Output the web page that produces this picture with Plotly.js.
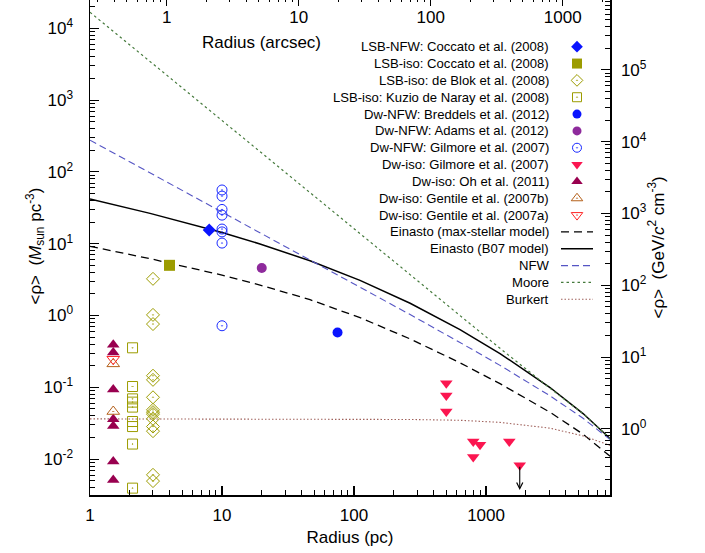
<!DOCTYPE html>
<html><head><meta charset="utf-8">
<script src="https://cdn.plot.ly/plotly-3.0.1.min.js"></script>
<style>html,body{margin:0;padding:0;background:#fff;overflow:hidden}#chart{position:absolute;left:0;top:-3px;width:705px;height:556px}</style>
</head><body><div id="chart"></div><script>
// ---------- observational data (radius in pc, mean density in Msun/pc^3) ----------
const lsbNfwCoccatoR = [8];
const lsbNfwCoccatoRho = [15.5];
const lsbIsoCoccatoR = [4];
const lsbIsoCoccatoRho = [5.0];
const lsbIsoDeBlokR = [3, 3, 3, 3, 3, 3, 3, 3, 3, 3, 3, 3, 3, 3];
const lsbIsoDeBlokRho = [3.24, 1.02, 0.76, 0.145, 0.127, 0.0726, 0.0486, 0.0451, 0.0423, 0.0364, 0.0284, 0.0245, 0.00604, 0.00494];
const lsbIsoKuzioR = [2.1, 2.1, 2.1, 2.1, 2.1, 2.1, 2.1, 2.1, 2.1];
const lsbIsoKuzioRho = [0.355, 0.1026, 0.069, 0.0622, 0.053, 0.0334, 0.0284, 0.0162, 0.00394];
const dwNfwBreddelsR = [75];
const dwNfwBreddelsRho = [0.58];
const dwNfwAdamsR = [20];
const dwNfwAdamsRho = [4.6];
const dwNfwGilmoreR = [10, 10, 10, 10, 10, 10, 10, 10];
const dwNfwGilmoreRho = [56, 46, 30, 25, 16, 14.6, 10.2, 0.72];
const dwIsoGilmoreR = [500, 500, 500, 800, 900, 800, 1500, 1800];
const dwIsoGilmoreRho = [0.114, 0.0769, 0.046, 0.0176, 0.0158, 0.0107, 0.0176, 0.0082];
const dwIsoGilmoreLimitTo = 0.0037;   // upper-limit arrow end for the last point
const dwIsoOhR = [1.5, 1.5, 1.5, 1.5, 1.5, 1.5, 1.5];
const dwIsoOhRho = [0.391, 0.305, 0.093, 0.036, 0.029, 0.00926, 0.0051];
const dwIsoGentileBR = [1.5, 1.5];
const dwIsoGentileBRho = [0.212, 0.046];
const dwIsoGentileAR = [1.5];
const dwIsoGentileARho = [0.246];

// ---------- model curves ----------
const modelR = [1, 2.85, 10, 19.4, 46.4, 111, 266, 635, 1276, 3053, 5431, 8700];
const einastoMaxStellar = [9.21, 6.19, 3.653, 2.658, 1.660, 0.9335, 0.4721, 0.2195, 0.1123, 0.04494, 0.02226, 0.01098];
const einastoB07 = [41.9, 26.44, 14.29, 9.93, 5.78, 3.085, 1.480, 0.6365, 0.2954, 0.0993, 0.0431, 0.01934];
const nfw = [276.6, 97.05, 27.66, 14.26, 5.962, 2.492, 1.031, 0.4206, 0.2021, 0.07611, 0.03703, 0.0187];
const moore = [16710, 3457, 520, 191.8, 51.45, 13.85, 3.716, 1.0, 0.349, 0.097, 0.0431, 0.0193];
const burkert = [0.03633, 0.03633, 0.03633, 0.03633, 0.03633, 0.0361, 0.03563, 0.03473, 0.03247, 0.02696, 0.02105, 0.01552];

// ---------- axis tick labels ----------
const leftTickVals = [0.01, 0.1, 1, 10, 100, 1000, 10000];
const leftTickText = ['10<sup>-2</sup>', '10<sup>-1</sup>', '10<sup>0</sup>', '10<sup>1</sup>', '10<sup>2</sup>', '10<sup>3</sup>', '10<sup>4</sup>'];
const rightTickVals = [1, 10, 100, 1000, 10000, 100000];
const rightTickText = ['10<sup>0</sup>', '10<sup>1</sup>', '10<sup>2</sup>', '10<sup>3</sup>', '10<sup>4</sup>', '10<sup>5</sup>'];
const bottomTickVals = [1, 10, 100, 1000];
const bottomTickText = ['1', '10', '100', '1000'];
const topTickVals = [1, 10, 100, 1000];
const topTickText = ['1', '10', '100', '1000'];

const PC_PER_ARCSEC = 3.806;      // scale of top axis
const GEV_PER_MSUNPC3 = 37.97;    // scale of right axis

// ---------- styles ----------
const FONT = 'Liberation Sans, Arial, Helvetica, sans-serif';
const OLIVE = '#9c9c00';
const series = [
  {name: 'LSB-NFW: Coccato et al. (2008)', x: lsbNfwCoccatoR, y: lsbNfwCoccatoRho, marker: {symbol: 'diamond', size: 10, color: '#0a14ff'}},
  {name: 'LSB-iso: Coccato et al. (2008)', x: lsbIsoCoccatoR, y: lsbIsoCoccatoRho, marker: {symbol: 'square', size: 11, color: OLIVE}},
  {name: 'LSB-iso: de Blok et al. (2008)', x: lsbIsoDeBlokR, y: lsbIsoDeBlokRho, marker: {symbol: 'diamond-open-dot', size: 10, color: OLIVE, line: {width: 1, color: OLIVE}}},
  {name: 'LSB-iso: Kuzio de Naray et al. (2008)', x: lsbIsoKuzioR, y: lsbIsoKuzioRho, marker: {symbol: 'square-open-dot', size: 10, color: OLIVE, line: {width: 1, color: OLIVE}}},
  {name: 'Dw-NFW: Breddels et al. (2012)', x: dwNfwBreddelsR, y: dwNfwBreddelsRho, marker: {symbol: 'circle', size: 10, color: '#0a14ff'}},
  {name: 'Dw-NFW: Adams et al. (2012)', x: dwNfwAdamsR, y: dwNfwAdamsRho, marker: {symbol: 'circle', size: 10, color: '#8e2a9c'}},
  {name: 'Dw-NFW: Gilmore et al. (2007)', x: dwNfwGilmoreR, y: dwNfwGilmoreRho, marker: {symbol: 'circle-open-dot', size: 10, color: '#1a2aff', line: {width: 1, color: '#1a2aff'}}},
  {name: 'Dw-iso: Gilmore et al. (2007)', x: dwIsoGilmoreR, y: dwIsoGilmoreRho, marker: {symbol: 'triangle-down', size: 11, color: '#fb1650'}},
  {name: 'Dw-iso: Oh et al. (2011)', x: dwIsoOhR, y: dwIsoOhRho, marker: {symbol: 'triangle-up', size: 11, color: '#99004f'}},
  {name: 'Dw-iso: Gentile et al. (2007b)', x: dwIsoGentileBR, y: dwIsoGentileBRho, marker: {symbol: 'triangle-up-open-dot', size: 11, color: '#b5601a', line: {width: 1, color: '#b5601a'}}},
  {name: 'Dw-iso: Gentile et al. (2007a)', x: dwIsoGentileAR, y: dwIsoGentileARho, marker: {symbol: 'triangle-down-open-dot', size: 11, color: '#ff2424', line: {width: 1, color: '#ff2424'}}}
];
const curves = [
  {name: 'Einasto (max-stellar model)', y: einastoMaxStellar, line: {color: '#000000', width: 1.3, dash: '8px,5px'}},
  {name: 'Einasto (B07 model)', y: einastoB07, line: {color: '#000000', width: 1.5}},
  {name: 'NFW', y: nfw, line: {color: '#5555c4', width: 1.1, dash: '7px,4px'}},
  {name: 'Moore', y: moore, line: {color: '#457a3c', width: 1.2, dash: '2.5px,3px'}},
  {name: 'Burkert', y: burkert, line: {color: '#a0625c', width: 1.1, dash: '1.5px,2px'}}
];

const traces = [];
curves.forEach(c => traces.push({type: 'scatter', mode: 'lines', x: modelR, y: c.y, line: c.line, xaxis: 'x', yaxis: 'y', showlegend: false, hoverinfo: 'skip'}));
series.forEach(s => traces.push({type: 'scatter', mode: 'markers', x: s.x, y: s.y, marker: s.marker, xaxis: 'x', yaxis: 'y', showlegend: false, hoverinfo: 'skip'}));
// invisible traces that activate the secondary axes
traces.push({type: 'scatter', mode: 'markers', x: [modelR[0] / PC_PER_ARCSEC], y: [einastoB07[0]], xaxis: 'x2', yaxis: 'y', marker: {opacity: 0}, showlegend: false, hoverinfo: 'skip'});
traces.push({type: 'scatter', mode: 'markers', x: [modelR[0] / PC_PER_ARCSEC], y: [einastoB07[0]], xaxis: 'x4', yaxis: 'y', marker: {opacity: 0}, showlegend: false, hoverinfo: 'skip'});
traces.push({type: 'scatter', mode: 'markers', x: [modelR[0]], y: [einastoB07[0] * GEV_PER_MSUNPC3], xaxis: 'x', yaxis: 'y2', marker: {opacity: 0}, showlegend: false, hoverinfo: 'skip'});

// ---------- custom legend (text right-aligned, key to its right as in the original) ----------
const legendItems = series.map(s => ({name: s.name, marker: s.marker})).concat(curves.map(c => ({name: c.name, line: c.line})));
const annotations = [];
legendItems.forEach((it, i) => {
  if (it.marker) {
    traces.push({type: 'scatter', mode: 'markers', x: [0.5], y: [i], xaxis: 'x3', yaxis: 'y3', marker: Object.assign({}, it.marker, {size: Math.max(it.marker.size - 1, 8)}), showlegend: false, hoverinfo: 'skip', cliponaxis: false});
  } else {
    traces.push({type: 'scatter', mode: 'lines', x: [0, 1], y: [i, i], xaxis: 'x3', yaxis: 'y3', line: it.line, showlegend: false, hoverinfo: 'skip', cliponaxis: false});
  }
  annotations.push({xref: 'paper', yref: 'y3', x: 0.8865, y: i, xanchor: 'right', yanchor: 'middle', text: it.name, showarrow: false, font: {family: FONT, size: 13.1, color: '#000'}});
});

// upper-limit arrow
const lastIdx = dwIsoGilmoreR.length - 1;
annotations.push({xref: 'x', yref: 'y', axref: 'x', ayref: 'y',
  x: Math.log10(dwIsoGilmoreR[lastIdx]), y: Math.log10(dwIsoGilmoreLimitTo),
  ax: Math.log10(dwIsoGilmoreR[lastIdx]), ay: Math.log10(dwIsoGilmoreRho[lastIdx]),
  text: '', showarrow: true, arrowhead: 5, arrowsize: 1.1, arrowwidth: 1.1, arrowcolor: '#000'});

const titleFont = {family: FONT, size: 17, color: '#000'};
// axis titles placed like the original
annotations.push({xref: 'paper', yref: 'paper', x: 0.329, y: 0.908, xanchor: 'center', yanchor: 'middle', text: 'Radius (arcsec)', showarrow: false, font: titleFont});
annotations.push({xref: 'paper', yref: 'paper', x: -0.1067, y: 0.5, xanchor: 'center', yanchor: 'middle', textangle: -90, text: '&lt;ρ&gt;  (<i>M</i><sub>sun</sub> pc<sup>-3</sup>)', showarrow: false, font: titleFont});
annotations.push({xref: 'paper', yref: 'paper', x: 1.0892, y: 0.498, xanchor: 'center', yanchor: 'middle', textangle: -90, text: '&lt;ρ&gt;  (GeV/<i>c</i><sup>2</sup> cm<sup>-3</sup>)', showarrow: false, font: titleFont});

function minorVals(lo, hi) {
  const v = [];
  for (let e = Math.floor(lo); e <= Math.ceil(hi); e++) {
    for (let m = 2; m <= 9; m++) { const val = m * Math.pow(10, e); const l = Math.log10(val); if (l >= lo && l <= hi) v.push(val); }
  }
  return v;
}

const xRange = [0, 3.939];
const yRange = [-2.5, 4.436];
const x2Range = [xRange[0] - Math.log10(PC_PER_ARCSEC), xRange[1] - Math.log10(PC_PER_ARCSEC)];
const y2Range = [yRange[0] + Math.log10(GEV_PER_MSUNPC3), yRange[1] + Math.log10(GEV_PER_MSUNPC3)];

const tickFont = {family: FONT, size: 17, color: '#000'};
const commonAxis = {type: 'log', showgrid: false, zeroline: false, showline: true, linecolor: '#000', linewidth: 1.5, ticks: 'inside', ticklen: 9, tickwidth: 1.1, tickcolor: '#000', tickfont: tickFont, tickmode: 'array'};
const minorStyle = {tickmode: 'array', ticks: 'inside', ticklen: 5, tickwidth: 1, tickcolor: '#000'};

const layout = {
  width: 705, height: 556,
  margin: {l: 90, r: 95, t: 0, b: 58, pad: 0},
  paper_bgcolor: '#fff', plot_bgcolor: '#fff',
  font: {family: FONT, color: '#000'},
  showlegend: false, hovermode: false,
  xaxis: Object.assign({}, commonAxis, {range: xRange, tickvals: bottomTickVals, ticktext: bottomTickText, ticklabelstandoff: 4,
    minor: Object.assign({tickvals: minorVals(xRange[0], xRange[1])}, minorStyle),
    title: {text: 'Radius (pc)', font: titleFont, standoff: 7}, anchor: 'y', side: 'bottom'}),
  xaxis2: Object.assign({}, commonAxis, {range: x2Range, tickvals: topTickVals, ticktext: topTickText, overlaying: 'x', side: 'top', anchor: 'y', showticklabels: false,
    minor: Object.assign({tickvals: minorVals(x2Range[0], x2Range[1])}, minorStyle)}),
  xaxis4: {type: 'log', range: x2Range, overlaying: 'x', anchor: 'free', position: 0.9926, side: 'bottom', showline: false, showgrid: false, zeroline: false, ticks: '',
    tickmode: 'array', tickvals: topTickVals, ticktext: topTickText, tickfont: tickFont, ticklabelstandoff: 4},
  yaxis: Object.assign({}, commonAxis, {range: yRange, tickvals: leftTickVals, ticktext: leftTickText, ticklabelstandoff: 12,
    minor: Object.assign({tickvals: minorVals(yRange[0], yRange[1])}, minorStyle), anchor: 'x', side: 'left'}),
  yaxis2: Object.assign({}, commonAxis, {range: y2Range, tickvals: rightTickVals, ticktext: rightTickText, overlaying: 'y', side: 'right', anchor: 'x', ticklabelstandoff: 6,
    minor: Object.assign({tickvals: minorVals(y2Range[0], y2Range[1])}, minorStyle)}),
  xaxis3: {domain: [(561 - 90) / 520, (593 - 90) / 520], range: [0, 1], visible: false, fixedrange: true, anchor: 'y3'},
  yaxis3: {domain: [(495 - 307.7) / 498, (495 - 38.3) / 498], range: [15.5, -0.5], visible: false, fixedrange: true, anchor: 'x3'},
  annotations: annotations
};

Plotly.newPlot('chart', traces, layout, {staticPlot: true, displayModeBar: false});
</script></body></html>
